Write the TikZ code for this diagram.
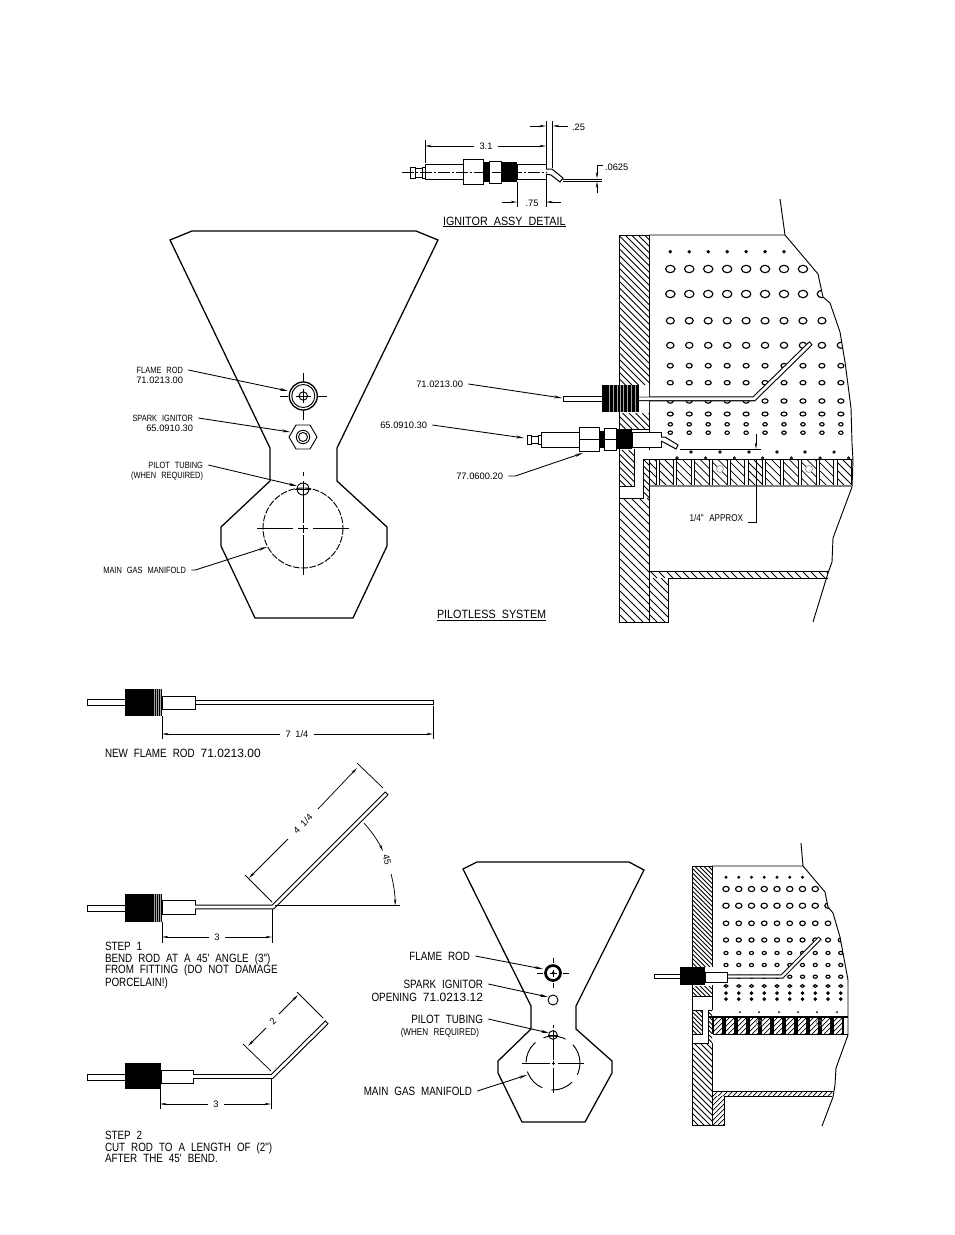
\documentclass[tikz,border=0pt]{standalone}
\usepackage{fontspec}
\usetikzlibrary{arrows.meta}
\newfontfamily\cad[FakeStretch=0.82]{Liberation Sans}
\newfontfamily\cadw[FakeStretch=0.9]{Liberation Sans}
\newfontfamily\cadn{Liberation Sans}
\newcommand\smalltxt{\cad\fontsize{6.8}{8}\selectfont\spaceskip=.55em\relax}
\newcommand\numtxt{\cadn\fontsize{7}{8}\selectfont\spaceskip=.5em\relax}
\newcommand\midtxt{\cad\fontsize{7.4}{9}\selectfont\spaceskip=.55em\relax}
\newcommand\bigtxt{\cad\fontsize{9}{11}\selectfont\spaceskip=.5em\relax}
\newcommand\titletxt{\cadw\fontsize{9}{11}\selectfont\spaceskip=.5em\relax}
\newcommand\nb{\cadn\fontsize{9}{11}\selectfont}
\newcommand\hatchbox[6]{%
  \begin{scope}
    \clip (#1,#2) rectangle (#3,#4);
    \pgfmathsetmacro\hh{#4-#2}
    \pgfmathsetmacro\ww{#3-#1}
    \pgfmathtruncatemacro\nn{ceil((\hh+\ww)/#6)}
    \foreach \k in {0,...,\nn}{
      \pgfmathsetmacro\xa{#1-\hh+\k*#6}
      \pgfmathsetmacro\xb{\xa+\hh}
      \ifnum#5>0
        \draw[hatchline] (\xa,#2) -- (\xb,#4);
      \else
        \draw[hatchline] (\xb,#2) -- (\xa,#4);
      \fi
    }
  \end{scope}}
\newcommand\threadbox[4]{%
  \fill[black] (#1,#2) rectangle (#3,#4);}
\newcommand\holerow[6]{% y, from col, to col, rx, ry, fill
  \foreach \c in {#2,...,#3}{
    \pgfmathsetmacro\cx{\holex+(\c-1)*\holep}
    \draw[hole,fill=#6] (\cx,#1) ellipse [x radius=#4,y radius=#5];
  }}
\tikzset{
  hatchline/.style={line width=0.55pt},
  ln/.style={line width=0.7pt},
  thk/.style={line width=0.95pt},
  dimline/.style={line width=0.55pt},
  hole/.style={line width=0.85pt},
  stripe/.style={gray!70,line width=0.25pt},
  dimarrow/.style={line width=0.55pt,-{Stealth[length=5pt,width=1.8pt]}},
  leader/.style={line width=0.65pt,-{Stealth[length=6pt,width=2.2pt]}},
  st/.style={font=\smalltxt,inner sep=0pt,outer sep=0pt,text height=4.9pt,text depth=0pt},
  nt/.style={font=\numtxt,inner sep=0pt,outer sep=0pt,text height=4.9pt,text depth=0pt},
  mt/.style={font=\midtxt,inner sep=0pt,outer sep=0pt,text height=5.3pt,text depth=0pt},
  bt/.style={font=\bigtxt,inner sep=0pt,outer sep=0pt,text height=6.4pt,text depth=0pt},
  tt/.style={font=\titletxt,inner sep=0pt,outer sep=0pt,text height=6.4pt,text depth=0pt},
  part/.style={draw=black,fill=white,line width=0.75pt},
}
\begin{document}
\begin{tikzpicture}[x=0.75pt,y=-0.75pt]
\useasboundingbox (0,0) rectangle (954,1235);
\fill[white] (0,0) rectangle (954,1235);

%%% ---------- Ignitor assy detail ----------
\draw[part] (410,167) rectangle (415,178);
\draw[part] (415,168) rectangle (422,177);
\draw[part] (422,167) rectangle (425,178);
\draw[part] (425,164) rectangle (463,179);
\draw[part] (463,159) rectangle (483,184);
\threadbox{483}{162}{489}{182}
\draw[part] (489,161) rectangle (501,183);
\threadbox{501}{162}{517}{182}
\draw[part] (517,164) rectangle (546,179);
\draw[part] (546,169) -- (552,169) -- (563,178) -- (560,182) -- (551,175) -- (546,174);
\draw[ln,dash pattern=on 9pt off 1.5pt on 1.5pt off 1.5pt] (402,172.5) -- (547,172.5);
% dims
\coordinate (e31a) at (425,140);
\coordinate (e31b) at (425,163);
\coordinate (e31c) at (546,121);
\coordinate (e31d) at (546,164);
\draw[dimline] (e31a) -- (e31b) (e31c) -- (e31d);
\node[nt] (d31) at (486,146) {3.1};
\draw[dimarrow] (d31.west) ++(-4pt,0) -- (425,146);
\draw[dimarrow] (d31.east) ++(4pt,0) -- (546,146);
\coordinate (e25a) at (552.7,121);
\coordinate (e25b) at (552.7,168);
\draw[dimline] (e25a) -- (e25b);
\node[nt,anchor=west] (d25) at (572,127) {.25};
\coordinate (a25l) at (530,126);
\coordinate (a25r) at (568,126);
\draw[dimarrow] (a25l) -- (546,126);
\draw[dimarrow] (a25r) -- (552.7,126);
\coordinate (e625a) at (563,179);
\coordinate (e625b) at (602,179);
\coordinate (e625c) at (563,181);
\coordinate (e625d) at (602,181);
\draw[dimline] (e625a) -- (e625b) (e625c) -- (e625d);
\node[nt,anchor=west] (d625) at (605,167) {.0625};
\draw[dimarrow] (603,165) -- (597,165) -- (597,178.5);
\draw[dimarrow] (597,193) -- (597,181.5);
\draw[dimline] (517,182) -- (517,207) (546,179) -- (546,207);
\node[nt] (d75) at (532,203) {.75};
\draw[dimarrow] (502,202) -- (517,202);
\draw[dimarrow] (561,202) -- (546,202);
\node[tt,anchor=west] (t1) at (443,221) {IGNITOR ASSY DETAIL};
\draw[line width=0.7pt] (443,226.5) -- (566,226.5);

%%% ---------- Large plate ----------
\draw[thk] (170,240) -- (192,231) -- (416,231) -- (438,240) -- (337,448) -- (337,481) -- (387,527) -- (387,546) -- (353,618) -- (255,618) -- (221,546) -- (221,527) -- (270,481) -- (270,448) -- cycle;
% flame rod
\node[circle,draw,line width=1pt,minimum size=21pt,inner sep=0pt] (fr) at (303.3,396) {};
\draw[ln] (fr.center) circle [radius=11.5];
\draw[ln] (fr.center) circle [radius=4.2];
\draw[ln] (296,396) -- (311,396) (303.3,389) -- (303.3,403);
\draw[ln] (303.3,373) -- (303.3,382) (303.3,410) -- (303.3,420) (280,396) -- (288,396) (318,396) -- (327,396);
% spark ignitor
\draw[ln] (289,437) -- (296,425) -- (310,425) -- (317,437) -- (310,449) -- (296,449) -- cycle;
\draw[ln] (303,437) circle [radius=6.7];
\draw[ln] (303,437) circle [radius=4.5];
% pilot tube
\draw[ln] (303,489) circle [radius=6];
\draw[ln] (295,489) -- (311,489) (303,472) -- (303,476) (303,481) -- (303,523) (303,525) -- (303,533) (303,535) -- (303,575);
\draw[ln,dash pattern=on 5pt off 1.2pt] (303,528) circle [radius=40];
\draw[ln] (257,528) -- (293,528) (298,528) -- (308,528) (313,528) -- (349,528);
% labels
\node[st,anchor=east] (lfr) at (183,370) {FLAME ROD};
\node[nt,anchor=east] (lfrn) at (183,380) {71.0213.00};
\coordinate (afr) at (288,391);
\draw[leader] ([xshift=4pt]lfr.east) -- (afr);
\node[st,anchor=east] (lsi) at (193,418) {SPARK IGNITOR};
\node[nt,anchor=east] (lsin) at (193,428) {65.0910.30};
\coordinate (asi) at (290,432);
\draw[leader] ([xshift=4pt]lsi.east) -- (asi);
\node[st,anchor=east] (lpt) at (203,465) {PILOT TUBING};
\node[st,anchor=east] (lptw) at (203,475) {(WHEN REQUIRED)};
\coordinate (apt) at (297,486);
\draw[leader] ([xshift=4pt]lpt.east) -- (apt);
\node[st,anchor=east] (lmg) at (186,570) {MAIN GAS MANIFOLD};
\coordinate (amg) at (267,547);
\draw[leader] ([xshift=4pt]lmg.east) -- ++(4,0) -- (amg);

%%% ---------- Pilotless system section ----------
\begin{scope}
  \clip (649,235) -- (785,235) -- (818,274) -- (823,297) -- (830,303) -- (840,332) -- (845,362) -- (851,408) -- (852,443) -- (853,460) -- (649,460) -- cycle;
  \def\holex{670.3}\def\holep{18.95}
  \holerow{251.7}{1}{7}{1.1}{1.1}{black}
  \holerow{269}{1}{8}{4.7}{3.7}{white}
  \holerow{294}{1}{9}{4.7}{3.7}{white}
  \holerow{320.7}{1}{9}{4}{3.3}{white}
  \holerow{345.3}{1}{10}{3.7}{3}{white}
  \holerow{365.7}{1}{10}{3}{2.3}{white}
  \holerow{382.7}{1}{10}{3}{2.2}{white}
  \holerow{401}{1}{10}{3}{2.2}{white}
  \holerow{414}{1}{10}{3}{2}{white}
  \holerow{424.3}{1}{10}{2.2}{1.7}{white}
  \holerow{432.7}{1}{10}{2.2}{1.7}{white}
  \foreach \hx in {691,720,749,777,805,834}{\draw[line width=0.6pt] (\hx,452) circle [radius=1.2];}
  \foreach \hx in {677,705.7,734.3,762.7,791.3,820,848.7}{\draw[line width=0.6pt] (\hx,458) circle [radius=1.2];}
\end{scope}
\draw[ln] (649,235) -- (785,235) -- (780,199);
\draw[ln] (785,235) -- (818,274) -- (823,297) -- (830,303) -- (840,332) -- (845,362) -- (851,408) -- (852,443) -- (853,460) -- (852,487) -- (833,538) -- (832,562) -- (828,573) -- (813,622);
% wall
\hatchbox{619}{235}{649}{385}{1}{6.5}
\hatchbox{619}{413}{649}{429}{1}{6.5}
\hatchbox{619}{450}{634}{486}{1}{6.5}
\hatchbox{643}{459}{649}{498}{1}{6.5}
\hatchbox{619}{498}{649}{622}{1}{8}
\hatchbox{649}{578}{668}{622}{1}{8}
\hatchbox{649}{571}{828}{578}{1}{8}
% band
\foreach \bx in {659,676.8,694.6,712.4,730.2,748,765.8,783.6,801.4,819.2,837}{
  \hatchbox{\bx}{459.5}{\bx+14.7}{486}{1}{8}
  \draw[ln] (\bx,459.5) -- (\bx,486) (\bx+14.7,459.5) -- (\bx+14.7,486);
}
\hatchbox{649}{459.5}{656.5}{486}{1}{8}
\draw[ln] (656.5,459.5) -- (656.5,486);
\fill[white] (720,469) circle [radius=3.5] (809,469) circle [radius=3.5];
\draw[line width=0.4pt,gray] (720,469) circle [radius=3.5] (809,469) circle [radius=3.5];
\draw[thk] (649,459.5) -- (853,459.5);
\draw[thk,gray] (649,486) -- (852,486);
% wall outlines
\draw[ln] (619,235) -- (649,235);
\draw[ln] (619,235) -- (619,622) -- (668,622) -- (668,578) -- (828,578);
\draw[ln] (649,571) -- (828,571);
\draw[ln] (649,235) -- (649,450) (649,460) -- (649,622);
\draw[ln] (634,449) -- (634,486) -- (619,486) (619,498) -- (643,498) -- (643,459) -- (649,459);
% flame rod assembly
\draw[part] (563,396.5) rectangle (602,401.3);
\draw[line width=3.7pt,line join=miter] (639,398.8) -- (754,398.8) -- (811,343);
\draw[line width=2.1pt,white,line join=miter,shorten >=0.8pt] (639,398.8) -- (754,398.8) -- (811,343);
\fill[white] (639,385) rectangle (649,396.5) (639,401.3) rectangle (649,413);
\threadbox{602}{385}{639}{412}
\foreach \sx in {609,613,617,620,623,627,631,635}{\draw[stripe] (\sx,385) -- (\sx,412);}
% ignitor assembly
\draw[part] (527,435) rectangle (531,444);
\draw[part] (531,436) rectangle (538,443);
\draw[part] (538,435) rectangle (541,444);
\draw[part] (541,432) rectangle (579,447);
\draw[part] (579,427) rectangle (599,451);
\draw[ln] (579,439) -- (599,439);
\threadbox{599}{431}{604}{448}
\draw[part] (604,428) rectangle (616,450);
\draw[ln] (604,439) -- (616,439);
\threadbox{616}{429}{632}{449}
\draw[part] (632,432) rectangle (661,447);
\draw[part] (661,437) -- (665,437) -- (678,445) -- (676,449) -- (665,443) -- (661,441);
\draw[ln] (632,429) -- (649,429);
% 1/4 approx
\draw[dimarrow] (756,434) -- (756,449);
\draw[line width=0.7pt] (680,449.5) -- (761,449.5);
\draw[line width=0.7pt] (756,460) -- (756,522.5) -- (748,522.5);
\node[mt,anchor=east] (lappr) at (743,518) {1/4" APPROX};
% labels
\node[nt,anchor=east] (l71) at (463,384) {71.0213.00};
\coordinate (a71) at (562,398);
\draw[leader] ([xshift=4pt]l71.east) -- (a71);
\node[nt,anchor=east] (l65) at (427,425) {65.0910.30};
\coordinate (a65) at (524,438);
\draw[leader] ([xshift=4pt]l65.east) -- (a65);
\node[nt,anchor=east] (l77) at (503,476) {77.0600.20};
\coordinate (a77) at (583,453);
\draw[leader] ([xshift=4pt]l77.east) -- ++(7,0) -- (a77);
\node[tt,anchor=west] (t2) at (437,614) {PILOTLESS SYSTEM};
\draw[line width=0.7pt] (437,620) -- (546,620);

%%% ---------- New flame rod ----------
\draw[part] (87,699) rectangle (125,705);
\threadbox{125}{689}{162}{716}
\foreach \sx in {154,156,158,160}{\draw[stripe] (\sx,689) -- (\sx,716);}
\draw[part] (162,696) rectangle (195,709);
\draw[part] (195,700) rectangle (433,704);
\draw[dimline] (162,716) -- (162,739) (433,706) -- (433,739);
\node[nt] (d714) at (297,734) {7 1/4};
\draw[dimarrow] ([xshift=-4pt]d714.west) -- (162,734);
\draw[dimarrow] ([xshift=4pt]d714.east) -- (433,734);
\node[bt,anchor=west] (t3) at (105,753) {NEW FLAME ROD {\nb 71.0213.00}};

%%% ---------- Step 1 ----------
\draw[part] (87,905) rectangle (125,911);
\threadbox{125}{894}{162}{922}
\foreach \sx in {154,156,158,160}{\draw[stripe] (\sx,894) -- (\sx,922);}
\draw[part] (162,900) rectangle (195,914);
\draw[line width=3.6pt,line join=miter] (195,907) -- (273,907) -- (387,793);
\draw[line width=2pt,white,line join=miter,shorten >=0.8pt] (195,907) -- (273,907) -- (387,793);
\draw[dimline] (275,905) -- (400,905);
\draw[dimline] (272,909) -- (272,943) (162,922) -- (162,943);
\node[nt] (d3a) at (217,937) {3};
\draw[dimarrow] ([xshift=-4pt]d3a.west) -- (162,937);
\draw[dimarrow] ([xshift=4pt]d3a.east) -- (272,937);
\draw[dimline] (272,902) -- (245,875) (383,788) -- (357,763);
\node[nt,rotate=45] (d414) at (303,824) {4 1/4};
\draw[dimarrow] (288,839) -- (249,878);
\draw[dimarrow] (318,809) -- (357,768);
\node[nt,rotate=-75] (d45) at (387,860) {45};
\draw[dimarrow] (273+91,905-82) arc[start angle=-42,end angle=-26,radius=122] ;
\draw[dimarrow] (273+118,905-31) arc[start angle=-15,end angle=0,radius=122];
\node[bt,anchor=west] (s1a) at (105,946) {STEP 1};
\node[bt,anchor=west] (s1b) at (105,958) {BEND ROD AT A 45' ANGLE (3")};
\node[bt,anchor=west] (s1c) at (105,969) {FROM FITTING (DO NOT DAMAGE};
\node[bt,anchor=west] (s1d) at (105,982) {PORCELAIN!)};

%%% ---------- Step 2 ----------
\draw[part] (87,1074) rectangle (125,1080);
\threadbox{125}{1063}{161}{1089}
\draw[part] (161,1070) rectangle (193,1083);
\draw[line width=3.6pt,line join=miter] (193,1076.5) -- (272,1076.5) -- (327,1022);
\draw[line width=2pt,white,line join=miter,shorten >=0.8pt] (193,1076.5) -- (272,1076.5) -- (327,1022);
\draw[dimline] (271,1071) -- (243,1044) (323,1018) -- (297,992);
\draw[dimline] (160,1089) -- (160,1109) (271,1078) -- (271,1109);
\node[nt] (d3b) at (216,1104) {3};
\draw[dimarrow] ([xshift=-4pt]d3b.west) -- (160,1104);
\draw[dimarrow] ([xshift=4pt]d3b.east) -- (271,1104);
\node[nt,rotate=45] (d2) at (273,1021) {2};
\draw[dimarrow] (266,1028) -- (248,1046);
\draw[dimarrow] (279,1014) -- (298,995);
\node[bt,anchor=west] (s2a) at (105,1135) {STEP 2};
\node[bt,anchor=west] (s2b) at (105,1147) {CUT ROD TO A LENGTH OF (2")};
\node[bt,anchor=west] (s2c) at (105,1158) {AFTER THE 45' BEND.};

%%% ---------- Small plate ----------
\draw[thk] (463,869) -- (477,862) -- (629,862) -- (644,870) -- (576,1006) -- (576,1029) -- (612,1061) -- (612,1073) -- (585,1122) -- (522,1122) -- (498,1073) -- (498,1061) -- (531,1029) -- (531,1006) -- cycle;
\draw[line width=2pt] (553,973) circle [radius=7.5];
\fill (553,973) circle [radius=1.6];
\draw[line width=0.5pt] (549.5,973) -- (556.5,973) (553,969.5) -- (553,976.5);
\draw[ln] (553,958) -- (553,963) (553,983) -- (553,988) (537,973) -- (543,973) (563,973) -- (569,973);
\draw[ln] (553,1000) circle [radius=5];
\draw[ln] (553,1035) circle [radius=4.3];
\draw[ln] (548,1035) -- (558,1035) (553,1025) -- (553,1028) (553,1030) -- (553,1060) (553,1061) -- (553,1065) (553,1068) -- (553,1093);
\draw[ln] (522,1063) -- (550,1063) (551.5,1063) -- (555,1063) (558,1063) -- (584,1063);
\draw[ln,dash pattern=on 17pt off 7pt,dash phase=8pt] (553,1063) circle [radius=27];
\node[bt,anchor=east] (cfr) at (470,956) {FLAME ROD};
\coordinate (acfr) at (543,969);
\draw[leader] ([xshift=4pt]cfr.east) -- (acfr);
\node[bt,anchor=east] (csi) at (483,984) {SPARK IGNITOR};
\node[bt,anchor=east] (cop) at (483,997) {OPENING {\nb 71.0213.12}};
\coordinate (acsi) at (548,997);
\draw[leader] ([xshift=4pt]csi.east) -- (acsi);
\node[bt,anchor=east] (cpt) at (483,1019) {PILOT TUBING};
\node[mt,anchor=east] (cptw) at (479,1032) {(WHEN REQUIRED)};
\coordinate (acpt) at (549,1033);
\draw[leader] ([xshift=4pt]cpt.east) -- (acpt);
\node[bt,anchor=east] (cmg) at (472,1091) {MAIN GAS MANIFOLD};
\coordinate (acmg) at (527,1075);
\draw[leader] ([xshift=4pt]cmg.east) -- (acmg);

%%% ---------- Small section ----------
\begin{scope}
  \clip (712,866) -- (803,866) -- (825,892) -- (828,907) -- (833,913) -- (840,937) -- (848,980) -- (848,1017) -- (712,1017) -- cycle;
  \def\holex{726}\def\holep{12.75}
  \holerow{877.3}{1}{7}{0.8}{0.8}{black}
  \holerow{889}{1}{8}{3.2}{2.6}{white}
  \holerow{905.7}{1}{9}{3.2}{2.6}{white}
  \holerow{923.3}{1}{9}{2.8}{2.3}{white}
  \holerow{940}{1}{10}{2.5}{2.1}{white}
  \holerow{953}{1}{10}{2.1}{1.6}{white}
  \holerow{965}{1}{10}{2.1}{1.6}{white}
  \holerow{976.7}{1}{10}{2.1}{1.6}{white}
  \holerow{986}{1}{10}{1.9}{1.4}{white}
  \holerow{993}{1}{10}{1.2}{1.2}{black}
  \holerow{999}{1}{10}{1.2}{1.2}{black}
  \foreach \hx in {740,759,779,798,817,837}{\fill (\hx,1012) circle [radius=1];}
\end{scope}
\draw[ln] (712,866) -- (803,866) -- (801,843);
\draw[ln] (803,866) -- (825,892) -- (828,907) -- (833,913) -- (840,937) -- (848,980) -- (848,1035) -- (836,1068) -- (835,1085) -- (833,1097) -- (822,1126);
\hatchbox{692}{866}{712}{967}{1}{4.5}
\hatchbox{692}{986}{712}{996}{1}{4.5}
\hatchbox{692}{1010}{702}{1034}{1}{4.5}
\hatchbox{692}{1043}{712}{1125}{1}{6}
\hatchbox{712}{1096}{724}{1125}{-1}{5}
\hatchbox{712}{1092}{832}{1096}{-1}{5}
\foreach \bx in {713,725,737,749,761,773,785,797,809,821,833}{
  \hatchbox{\bx}{1017}{\bx+10}{1034}{-1}{5}
  \draw[line width=0.9pt] (\bx,1017) -- (\bx,1034) (\bx+10,1017) -- (\bx+10,1034);
}
\hatchbox{708}{1010}{712}{1043}{1}{4.5}
\draw[line width=0.4pt,gray] (759,1023) circle [radius=3] (819,1023) circle [radius=3];
\draw[thk] (708,1017) -- (848,1017);
\draw[ln] (713,1034) -- (848,1034);
\draw[ln] (692,866) -- (712,866);
\draw[ln] (692,866) -- (692,1125) -- (724,1125) -- (724,1096) -- (832,1096);
\draw[line width=1.3pt] (712,1091.5) -- (833,1091.5);
\draw[ln] (712,866) -- (712,967) (712,985) -- (712,1010) (712,1043) -- (712,1125);
\draw[ln] (692,996.5) -- (712,996.5) (692,1010) -- (702,1010) -- (702,1034) -- (692,1034) (692,1043) -- (708,1043) -- (708,1010) -- (712,1010);
\draw[part] (654,974) rectangle (680,978);
\fill[white] (705,967) rectangle (712,985);
\threadbox{680}{967}{705}{985}
\draw[line width=3.2pt,line join=miter] (727,976.5) -- (782,976.5) -- (820,938);
\draw[line width=1.7pt,white,line join=miter,shorten >=0.7pt] (727,976.5) -- (782,976.5) -- (820,938);
\draw[part] (705,972) rectangle (727,982);
\end{tikzpicture}
\end{document}
